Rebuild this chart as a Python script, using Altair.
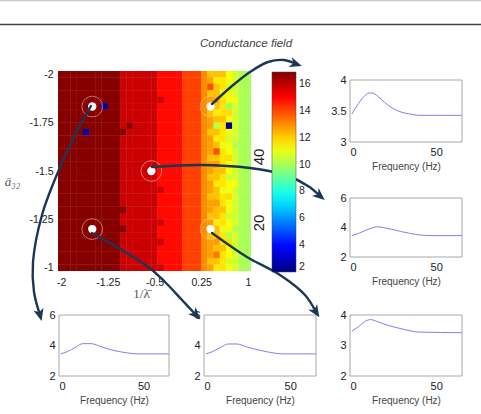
import altair as alt
import pandas as pd
import numpy as np

W, H = 481, 414
FONT = "Liberation Sans"
SERIF = "Liberation Serif"

# ---------------- heatmap data ----------------
grid_x = [round(-2 + 0.1 * i, 2) for i in range(31)]          # 1/lambda centres
grid_y = [-2 + i / 30 for i in range(31)]                      # a32 centres
# base conductance value of each column (read from colour)
col_values = [16.8, 16.8, 16.8, 16.8, 16.8, 16.8, 16.8, 16.8, 16.8, 16.8,
              15.8, 15.8, 15.8, 15.8, 15.8, 15.8,
              14.9, 14.9, 14.9, 14.9,
              14.1, 14.1, 14.1,
              13.0, 12.7, 12.2, 11.7, 11.2, 10.7, 10.1, 10.0]
# cells that differ from their column (col index, row index, value)
anom_col = [24, 24, 24, 24, 24, 24, 24, 24, 24, 24,
            25, 25, 25, 25, 25, 25, 25, 25, 25, 25,
            26, 26, 26, 26, 26, 26, 26, 26, 26,
            27, 27, 27, 27, 27, 27, 27, 27, 27,
            28, 28, 28, 28,
            24, 27, 25, 27, 25, 25, 27, 7, 4, 11, 10, 10, 10, 16, 16, 16, 16, 16]
anom_row = [0, 3, 6, 9, 13, 16, 19, 22, 25, 29,
            1, 4, 6, 10, 14, 17, 20, 23, 26, 30,
            0, 3, 7, 11, 15, 18, 21, 24, 27,
            2, 6, 10, 13, 16, 19, 22, 26, 29,
            4, 11, 17, 24,
            2, 5, 8, 8, 12, 28, 25, 5, 9, 8, 9, 21, 24, 4, 18, 23, 26, 30]
anom_val = [12.2, 12.2, 12.2, 12.2, 12.2, 12.2, 12.2, 12.2, 12.2, 12.2,
            11.6, 12.8, 11.6, 11.6, 12.8, 11.6, 12.8, 11.6, 12.8, 11.6,
            12.2, 11.0, 12.2, 11.0, 12.2, 11.0, 12.2, 11.0, 12.2,
            10.6, 11.8, 10.6, 11.8, 10.6, 11.8, 10.6, 11.8, 10.6,
            11.2, 10.2, 11.2, 10.2,
            13.9, 10.0, 10.2, 2.3, 13.9, 13.3, 10.2, 2.6, 2.6, 16.8, 16.8, 16.8, 16.8,
            15.8, 15.8, 15.8, 15.8, 15.8]

# sampled locations (white dots)
pt_x = [-1.5, 0.4, -0.55, -1.5, 0.4]
pt_y = [-1.833, -1.833, -1.5, -1.2, -1.2]

# ---------------- spectra (Frequency vs value) ----------------
fA = [1, 4, 8, 11, 13, 16, 20, 25, 30, 35, 40, 50, 65]
vA = [3.45, 3.58, 3.73, 3.79, 3.79, 3.74, 3.64, 3.54, 3.48, 3.45, 3.43, 3.43, 3.43]
fB = [1, 5, 10, 16, 20, 30, 40, 48, 65]
vB = [3.45, 3.6, 3.85, 4.05, 3.98, 3.72, 3.5, 3.45, 3.45]
fC = [1, 5, 10, 14, 19, 25, 30, 40, 46, 65]
vC = [3.45, 3.6, 3.9, 4.12, 4.12, 3.92, 3.74, 3.52, 3.45, 3.45]
fD = [1, 5, 10, 14, 19, 25, 30, 36, 46, 65]
vD = [3.45, 3.6, 3.9, 4.1, 4.1, 3.9, 3.75, 3.6, 3.45, 3.45]
fE = [1, 5, 9, 12, 16, 22, 29, 35, 40, 65]
vE = [3.47, 3.62, 3.8, 3.85, 3.78, 3.66, 3.56, 3.48, 3.44, 3.42]

# ---------------- arrows (figure pixel space) ----------------
arrows = {
    "a1": ([212, 232, 250, 268, 284, 296], [104, 86, 72, 62, 60, 64]),
    "a2": ([152, 200, 250, 285, 308, 320], [167, 165, 168, 175, 186, 196]),
    "a3": ([91, 75, 58, 42, 33, 34, 40], [106, 135, 172, 215, 262, 292, 315]),
    "a4": ([92, 147, 165, 182, 196], [233, 266, 282, 300, 315]),
    "a5": ([212, 247, 280, 305, 316], [233, 257, 275, 295, 312]),
}

JET = ["#000080", "#0000ff", "#0080ff", "#00ffff", "#80ff80",
       "#ffff00", "#ff8000", "#ff0000", "#800000"]

# ---------------- build heatmap table ----------------
vals = {}
for ci, cv in enumerate(col_values):
    for ri in range(len(grid_y)):
        vals[(ci, ri)] = cv
for c, r, v in zip(anom_col, anom_row, anom_val):
    vals[(c, r)] = v
rows = []
hw, hh = 0.053, 1.06 / 60   # slight overlap hides seams between cells
for (ci, ri), v in vals.items():
    xc, yc = grid_x[ci], grid_y[ri]
    rows.append({"x0": max(xc - hw, -2.05), "x1": min(xc + hw, 1.05),
                 "y0": max(yc - hh, -2 - 1 / 60), "y1": min(yc + hh, -1 + 1 / 60), "val": v})
heat_df = pd.DataFrame(rows)

hx = alt.Scale(domain=[-2.05, 1.05], range=[58, 251], nice=False, zero=False)
hy = alt.Scale(domain=[-2 - 1 / 60, -1 + 1 / 60], range=[71, 271], nice=False, zero=False)
cscale = alt.Scale(domain=[2, 16.9], range=JET, interpolate="rgb")

hx_axis = alt.Axis(orient="bottom", offset=271 - H, values=[-2, -1.25, -0.5, 0.25, 1],
                   labelExpr="datum.value + ''", grid=False, ticks=False, domain=False,
                   labelFontSize=10.5, labelColor="#222", labelPadding=6,
                   title="1/\u03bb\u0304", titleFont=SERIF, titleFontSize=13,
                   titleFontWeight="normal", titleColor="#555",
                   titleX=141, titleY=22, titleBaseline="middle", titleAlign="center")
hy_axis = alt.Axis(orient="left", offset=-58, values=[-2, -1.75, -1.5, -1.25, -1],
                   labelExpr="datum.value + ''", grid=False, ticks=False, domain=False,
                   labelFontSize=10.5, labelColor="#222", labelPadding=5,
                   title="\u0101\u2083\u2082", titleFont=SERIF, titleFontSize=13,
                   titleFontWeight="normal", titleFontStyle="italic", titleColor="#555",
                   titleAngle=0, titleX=-46, titleY=181, titleBaseline="middle", titleAlign="center")

heat = alt.Chart(heat_df).mark_rect().encode(
    x=alt.X("x0:Q", scale=hx, axis=hx_axis),
    x2="x1",
    y=alt.Y("y0:Q", scale=hy, axis=hy_axis),
    y2="y1",
    color=alt.Color("val:Q", scale=cscale, legend=alt.Legend(
        type="gradient", orient="none", legendX=272, legendY=72, direction="vertical",
        gradientLength=200, gradientThickness=24, title=None,
        values=[2, 4, 6, 8, 10, 12, 14, 16], labelFontSize=10.5, labelColor="#222",
        labelOffset=3, gradientStrokeColor="#444", gradientStrokeWidth=0.5)),
)

pts_df = pd.DataFrame({"px": pt_x, "py": pt_y})
rings = alt.Chart(pts_df).mark_point(shape="circle", size=430, filled=False,
                                     stroke="#ffe0d0", strokeWidth=1, opacity=0.5).encode(
    x=alt.X("px:Q", scale=hx, axis=hx_axis), y=alt.Y("py:Q", scale=hy, axis=hy_axis))
dots = alt.Chart(pts_df).mark_circle(size=70, color="white", opacity=1).encode(
    x=alt.X("px:Q", scale=hx, axis=hx_axis), y=alt.Y("py:Q", scale=hy, axis=hy_axis))

heat_layer = alt.layer(heat, rings, dots)


# ---------------- spectra panels ----------------
def panel(freq, vals_, xr, yr, ydom, yticks):
    df = pd.DataFrame({"f": freq, "v": vals_})
    xs = alt.Scale(domain=[0, 65], range=xr, nice=False, zero=False)
    ys = alt.Scale(domain=ydom, range=[yr[1], yr[0]], nice=False, zero=False)
    xa = alt.Axis(orient="bottom", offset=yr[1] - H, values=[0, 50], grid=False, ticks=False,
                  domain=False, labelFontSize=11, labelColor="#222", labelPadding=4,
                  labelExpr="datum.value + ''",
                  title="Frequency (Hz)", titleFontSize=10, titleFontWeight="normal",
                  titleColor="#444", titlePadding=4)
    ya = alt.Axis(orient="left", offset=-xr[0], values=yticks, grid=False, ticks=False,
                  domain=False, labelFontSize=11, labelColor="#222", labelPadding=4,
                  labelExpr="datum.value + ''", title=None)
    fr = pd.DataFrame({"x0": [0], "x1": [65], "y0": [ydom[0]], "y1": [ydom[1]]})
    frame = alt.Chart(fr).mark_rect(fillOpacity=0, stroke="#a8a8a8", strokeWidth=1).encode(
        x=alt.X("x0:Q", scale=xs, axis=xa), x2="x1",
        y=alt.Y("y0:Q", scale=ys, axis=ya), y2="y1")
    line = alt.Chart(df).mark_line(color="#8080f0", strokeWidth=1,
                                   interpolate="monotone").encode(
        x=alt.X("f:Q", scale=xs, axis=xa), y=alt.Y("v:Q", scale=ys, axis=ya))
    return alt.layer(frame, line)


pA = panel(fA, vA, [350, 462], [80, 142], [3, 4], [3, 3.5, 4])
pB = panel(fB, vB, [350, 462], [198, 257], [2, 6], [2, 4, 6])
pC = panel(fC, vC, [59, 169], [315, 376], [2, 6], [2, 4, 6])
pD = panel(fD, vD, [204, 316], [315, 376], [2, 6], [2, 4, 6])
pE = panel(fE, vE, [350, 462], [315, 376], [2, 4], [2, 3, 4])

# ---------------- arrows ----------------
arows, heads = [], []
for name, (xs_, ys_) in arrows.items():
    for i, (a, b) in enumerate(zip(xs_, ys_)):
        arows.append({"id": name, "i": i, "ax": a, "ay": b})
    dx, dy = xs_[-1] - xs_[-2], ys_[-1] - ys_[-2]
    ang = (np.degrees(np.arctan2(dy, dx)) + 360) % 360
    heads.append({"id": name, "ax": xs_[-1], "ay": ys_[-1], "ang": float(ang)})
arr_df = pd.DataFrame(arows)
head_df = pd.DataFrame(heads)
fx = alt.Scale(domain=[0, W], range=[0, W], nice=False, zero=False)
fy = alt.Scale(domain=[0, H], range=[0, H], nice=False, zero=False)
ARROW = "#1d3656"
arrow_lines = alt.Chart(arr_df).mark_line(color=ARROW, strokeWidth=2.4, interpolate="catmull-rom",
                                          strokeCap="round").encode(
    x=alt.X("ax:Q", scale=fx, axis=None), y=alt.Y("ay:Q", scale=fy, axis=None),
    detail="id:N", order="i:Q")
arrow_heads = alt.Chart(head_df).mark_point(
    shape="M1,0 L-1,-0.85 L-0.45,0 L-1,0.85 Z", filled=True, size=150, color=ARROW, opacity=1).encode(
    x=alt.X("ax:Q", scale=fx, axis=None), y=alt.Y("ay:Q", scale=fy, axis=None),
    angle=alt.Angle("ang:Q", scale=None))
arrow_layer = alt.layer(arrow_lines, arrow_heads)

# ---------------- annotations ----------------
one = pd.DataFrame({"k": [0]})
title = alt.Chart(one).mark_text(text="Conductance field", fontSize=11.5, fontStyle="italic",
                                 color="#444", align="center", baseline="middle").encode(
    x=alt.value(246), y=alt.value(44))
t40 = alt.Chart(one).mark_text(text="40", fontSize=15, angle=270, color="#222",
                               align="center", baseline="middle").encode(
    x=alt.value(259), y=alt.value(157))
t20 = alt.Chart(one).mark_text(text="20", fontSize=15, angle=270, color="#222",
                               align="center", baseline="middle").encode(
    x=alt.value(259), y=alt.value(223))
rule_top = alt.Chart(one).mark_rule(color="#c8c8c8", strokeWidth=1.5).encode(
    x=alt.value(0), x2=alt.value(W), y=alt.value(0.5))
rule_mid = alt.Chart(one).mark_rule(color="#444", strokeWidth=1.3).encode(
    x=alt.value(0), x2=alt.value(W), y=alt.value(24.5))

chart = alt.layer(
    heat_layer, pA, pB, pC, pD, pE, arrow_layer, title, t40, t20, rule_top, rule_mid
).resolve_scale(
    x="independent", y="independent"
).resolve_axis(
    x="independent", y="independent"
).properties(
    width=W, height=H, padding=0, autosize=alt.AutoSizeParams(type="none"),
    background="white"
).configure(font=FONT).configure_view(strokeWidth=0)

chart.save("out.html", embed_options={"renderer": "svg", "actions": False})
